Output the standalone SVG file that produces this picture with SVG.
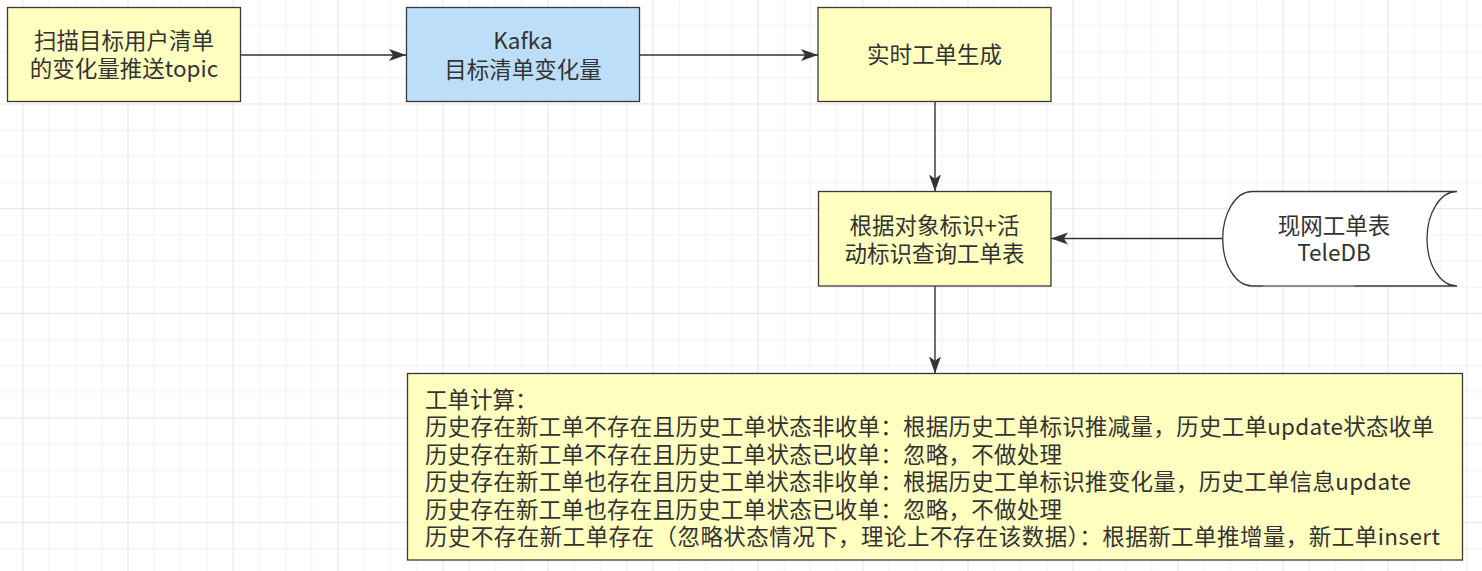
<svg xmlns="http://www.w3.org/2000/svg" width="1482" height="571" viewBox="0 0 1482 571">
<style>
.box{stroke:#36393d;stroke-width:1.3}
.yellow{fill:#ffffc0}
.blue{fill:#bcdef9}
.t{font-family:"Microsoft YaHei","Noto Sans CJK SC","Noto Sans",sans-serif;font-size:22.5px;fill:#333333}
.c{text-anchor:middle}
.edge{fill:none;stroke:#333333;stroke-width:1.4}
</style>
<defs>
<pattern id="grid" patternUnits="userSpaceOnUse" x="22.5" y="-1.2" width="105" height="104.67">
<rect x="0" y="0" width="105" height="104.67" fill="#ffffff"/>
<g fill="#f1f1f1">
<rect x="26.25" y="0" width="1" height="104.67"/>
<rect x="52.5" y="0" width="1" height="104.67"/>
<rect x="78.75" y="0" width="1" height="104.67"/>
<rect x="0" y="26.17" width="105" height="1"/>
<rect x="0" y="52.33" width="105" height="1"/>
<rect x="0" y="78.5" width="105" height="1"/>
</g>
<g fill="#e5e5e5">
<rect x="0" y="0" width="1" height="104.67"/>
<rect x="0" y="0" width="105" height="1"/>
</g>
</pattern>
<marker id="arr" markerUnits="userSpaceOnUse" markerWidth="18" markerHeight="13" refX="17" refY="6" orient="auto">
<path d="M0,0 L17,6 L0,12 L4.2,6 Z" fill="#333333"/>
</marker>
</defs>
<rect x="0" y="0" width="1482" height="571" fill="url(#grid)"/>

<g id="connectors">
<line class="edge" x1="240.5" y1="55" x2="406" y2="55" marker-end="url(#arr)"/>
<line class="edge" x1="639.5" y1="55" x2="818" y2="55" marker-end="url(#arr)"/>
<line class="edge" x1="935" y1="101.5" x2="935" y2="191.5" marker-end="url(#arr)"/>
<line class="edge" x1="1223" y1="238.5" x2="1051" y2="238.5" marker-end="url(#arr)"/>
<line class="edge" x1="935" y1="286" x2="935" y2="373.5" marker-end="url(#arr)"/>
</g>

<g id="scan">
<rect class="box yellow" x="7.5" y="7.5" width="233" height="94"/>
<text class="t c" x="124" y="49.3">扫描目标用户清单</text>
<text class="t c" x="124" y="76.8">的变化量推送topic</text>
</g>

<g id="kafka">
<rect class="box blue" x="406.5" y="7.5" width="233" height="94"/>
<text class="t c" x="523" y="49.3">Kafka</text>
<text class="t c" x="523" y="77.5">目标清单变化量</text>
</g>

<g id="realtime">
<rect class="box yellow" x="818" y="7.5" width="233" height="94"/>
<text class="t c" x="934.5" y="63">实时工单生成</text>
</g>

<g id="query">
<rect class="box yellow" x="818.5" y="191.5" width="232.5" height="94.5"/>
<text class="t c" x="934.5" y="234">根据对象标识+活</text>
<text class="t c" x="934.5" y="261.5">动标识查询工单表</text>
</g>

<g id="db">
<path class="box" fill="#ffffff" d="M1252.2,191.5 L1457,191.5 A30,47.25 0 0 0 1457,286 L1252.2,286 A29.5,47.25 0 0 1 1252.2,191.5 Z"/>
<line x1="1263" y1="286" x2="1354" y2="286" stroke="#9a9a9a" stroke-width="1.3"/>
<text class="t c" x="1334" y="233.5">现网工单表</text>
<text class="t c" x="1334" y="261">TeleDB</text>
</g>

<g id="calc">
<rect class="box yellow" x="407.5" y="373.5" width="1055" height="186.5"/>
<text class="t" x="425" y="407.7">工单计算：</text>
<text class="t" x="425" y="435.2" textLength="1009" lengthAdjust="spacing">历史存在新工单不存在且历史工单状态非收单：根据历史工单标识推减量，历史工单update状态收单</text>
<text class="t" x="425" y="462.7" textLength="637" lengthAdjust="spacing">历史存在新工单不存在且历史工单状态已收单：忽略，不做处理</text>
<text class="t" x="425" y="490.2" textLength="986" lengthAdjust="spacing">历史存在新工单也存在且历史工单状态非收单：根据历史工单标识推变化量，历史工单信息update</text>
<text class="t" x="425" y="517.7" textLength="637" lengthAdjust="spacing">历史存在新工单也存在且历史工单状态已收单：忽略，不做处理</text>
<text class="t" x="425" y="545.2" textLength="1015" lengthAdjust="spacing">历史不存在新工单存在（忽略状态情况下，理论上不存在该数据）：根据新工单推增量，新工单insert</text>
</g>
</svg>
